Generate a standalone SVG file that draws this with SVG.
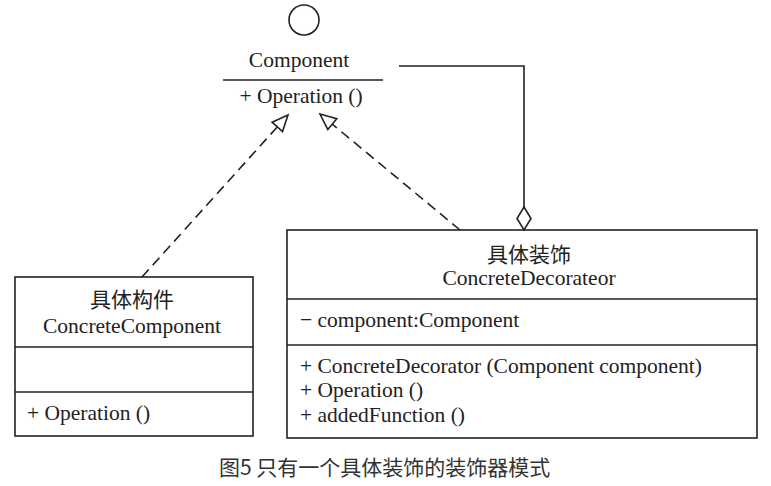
<svg xmlns="http://www.w3.org/2000/svg" width="771" height="486" viewBox="0 0 771 486">
<style>
.box{fill:#fff;stroke:#222;stroke-width:1.6}
.ln{stroke:#222;stroke-width:1.6;fill:none}
.dash{stroke:#222;stroke-width:1.6;fill:none;stroke-dasharray:10 6}
.t{font-family:"Liberation Serif","Times New Roman",serif;font-size:21.5px;fill:#222}
.c{font-family:"Noto Sans CJK SC",sans-serif;font-size:21px;fill:#222}
.m{text-anchor:middle}
.cap{font-family:"Noto Sans CJK SC",sans-serif;font-size:21px;fill:#333}
</style>
<rect width="771" height="486" fill="#fff"/>
<g id="component">
<circle cx="304" cy="20" r="15" class="ln"/>
<text x="299" y="67" class="t m">Component</text>
<line x1="223" y1="80" x2="383" y2="80" class="ln"/>
<text x="301" y="103" class="t m">+ Operation ()</text>
</g>
<g id="concrete-component">
<rect x="15" y="277" width="238" height="159" class="box"/>
<line x1="15" y1="347" x2="253" y2="347" class="ln"/>
<line x1="15" y1="392" x2="253" y2="392" class="ln"/>
<text x="132" y="307" class="c m">具体构件</text>
<text x="132" y="333" class="t m">ConcreteComponent</text>
<text x="27" y="420" class="t">+ Operation ()</text>
</g>
<g id="concrete-decorator">
<rect x="287" y="230" width="470" height="208" class="box"/>
<line x1="287" y1="299" x2="757" y2="299" class="ln"/>
<line x1="287" y1="345" x2="757" y2="345" class="ln"/>
<text x="529" y="262" class="c m">具体装饰</text>
<text x="529" y="285" class="t m">ConcreteDecorateor</text>
<text x="300" y="327" class="t">− component:Component</text>
<text x="300" y="373" class="t">+ ConcreteDecorator (Component component)</text>
<text x="300" y="397" class="t">+ Operation ()</text>
<text x="300" y="422" class="t">+ addedFunction ()</text>
</g>
<g id="connectors">
<line x1="142" y1="277" x2="277.3" y2="126.9" class="dash"/>
<polygon points="288,115 282.5,131.6 272.1,122.2" class="box"/>
<line x1="460" y1="230" x2="332.3" y2="124.2" class="dash"/>
<polygon points="320,114 336.8,118.8 327.8,129.6" class="box"/>
<polyline points="399,66 524,66 524,207" class="ln"/>
<polygon points="524,207 531,218.5 524,230 517,218.5" class="box"/>
</g>
<text x="219" y="475" class="cap">图5 只有一个具体装饰的装饰器模式</text>
</svg>
